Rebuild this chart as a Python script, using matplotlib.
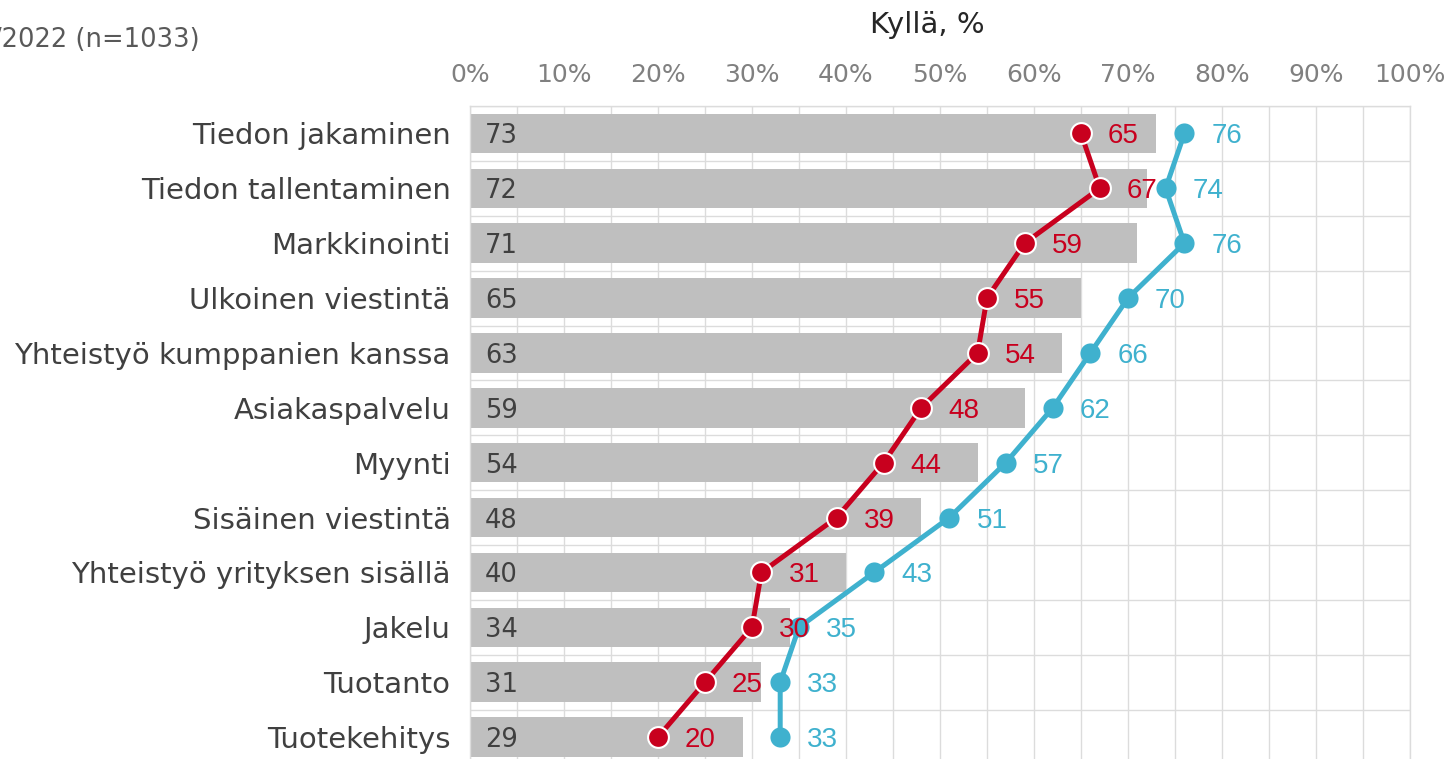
import matplotlib
matplotlib.use('Agg')
import matplotlib.pyplot as plt
from matplotlib.ticker import MultipleLocator, PercentFormatter

# data
categories = ['Tiedon jakaminen', 'Tiedon tallentaminen', 'Markkinointi',
              'Ulkoinen viestintä', 'Yhteistyö kumppanien kanssa', 'Asiakaspalvelu',
              'Myynti', 'Sisäinen viestintä', 'Yhteistyö yrityksen sisällä',
              'Jakelu', 'Tuotanto', 'Tuotekehitys']
bar_values = [73, 72, 71, 65, 63, 59, 54, 48, 40, 34, 31, 29]
red_values = [65, 67, 59, 55, 54, 48, 44, 39, 31, 30, 25, 20]
blue_values = [76, 74, 76, 70, 66, 62, 57, 51, 43, 35, 33, 33]

grey = '#BFBFBF'
red = '#C8001E'
blue = '#3FB1CE'
grid_col = '#DCDCDC'

fig = plt.figure(figsize=(14.5, 7.59), dpi=100)
ax = fig.add_axes([470/1450, 1 - 764.5/759, 940/1450, 658.5/759])

y = list(range(len(categories)))
ax.barh(y, bar_values, height=0.72, color=grey, zorder=2)
for yi, v in zip(y, bar_values):
    ax.text(1.6, yi, str(v), ha='left', va='center_baseline', fontsize=18.5,
            color='#404040', family='DejaVu Sans', zorder=3)

ax.plot(red_values, y, color=red, lw=3.6, marker='o', ms=15,
        markeredgecolor='white', markeredgewidth=1.5, zorder=4)
ax.plot(blue_values, y, color=blue, lw=3.6, marker='o', ms=14.5,
        markeredgecolor=blue, markeredgewidth=0, zorder=4)
for yi, v in zip(y, red_values):
    ax.annotate(str(v), (v, yi), xytext=(19.5, 0), textcoords='offset points',
                ha='left', va='center_baseline', fontsize=20, color=red,
                family='Liberation Sans', zorder=5)
for yi, v in zip(y, blue_values):
    ax.annotate(str(v), (v, yi), xytext=(19.5, 0), textcoords='offset points',
                ha='left', va='center_baseline', fontsize=20, color=blue,
                family='Liberation Sans', zorder=5)

ax.set_xlim(0, 100)
ax.set_ylim(len(categories) - 0.5, -0.5)
ax.xaxis.tick_top()
ax.xaxis.set_major_locator(MultipleLocator(10))
ax.xaxis.set_minor_locator(MultipleLocator(5))
ax.xaxis.set_major_formatter(PercentFormatter(decimals=0))
ax.tick_params(axis='x', which='both', length=0, pad=14, labelsize=18,
               labelcolor='#808080')
ax.set_yticks(y)
ax.set_yticklabels(categories, fontsize=21, color='#404040')
ax.tick_params(axis='y', length=0, pad=14)
ax.grid(axis='x', which='both', color=grid_col, lw=1, zorder=0)
for b in range(len(categories) + 1):
    ax.axhline(b - 0.5, color=grid_col, lw=1, zorder=0)
for s in ax.spines.values():
    s.set_color(grid_col)
    s.set_linewidth(1)

fig.text(927/1450, 1 - 25/759, 'Kyllä, %', ha='center', va='center',
         fontsize=21, color='#262626')
fig.text(200/1450, 1 - 40/759, '/2022 (n=1033)', ha='right', va='center',
         fontsize=18.5, color='#595959')

fig.savefig('out.png', dpi=100)
